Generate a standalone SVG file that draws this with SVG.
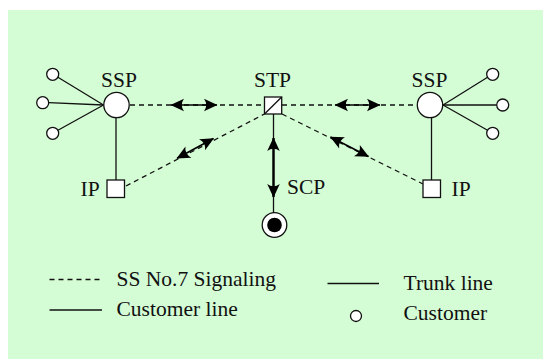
<svg xmlns="http://www.w3.org/2000/svg" width="543" height="359" viewBox="0 0 543 359">
  <style>
    text { font-family: "Liberation Serif", "DejaVu Serif", "Times New Roman", Times, serif; font-size: 21.5px; fill: #111; }
    .wire { stroke: #111; stroke-width: 1.3; fill: none; }
    .sig { stroke: #111; stroke-width: 1.3; fill: none; stroke-dasharray: 5 4; }
    .arr { stroke: #000; stroke-width: 1.6; fill: none; marker-start: url(#head); marker-end: url(#head); }
    .arr-thick { stroke: #000; stroke-width: 2.4; fill: none; marker-start: url(#head); marker-end: url(#head); }
    .node { fill: #fff; stroke: #111; stroke-width: 1.3; }
  </style>
  <defs>
    <!-- barbed arrowhead, tip at the origin -->
    <marker id="head" viewBox="-14 -7 15 14" refX="0" refY="0" markerWidth="15" markerHeight="14" markerUnits="userSpaceOnUse" orient="auto-start-reverse">
      <path d="M0.5,0 L-13,-6.3 Q-8.5,0 -13,6.3 Z" fill="#000"/>
    </marker>
  </defs>

  <rect x="0" y="0" width="543" height="359" fill="#fff"/>
  <rect x="8" y="10" width="535" height="349" fill="#d5fdd5"/>

  <g id="connectors">
    <!-- customer lines, left -->
    <line class="wire" x1="57.5" y1="77" x2="103.5" y2="105"/>
    <line class="wire" x1="48.7" y1="102.7" x2="103.5" y2="105"/>
    <line class="wire" x1="57.5" y1="130.5" x2="103.5" y2="105"/>
    <!-- customer lines, right -->
    <line class="wire" x1="488" y1="77" x2="443" y2="105"/>
    <line class="wire" x1="496.7" y1="105" x2="443" y2="105"/>
    <line class="wire" x1="488" y1="130.5" x2="443" y2="105"/>
    <!-- trunk lines SSP to IP -->
    <line class="wire" x1="116" y1="118" x2="116" y2="180"/>
    <line class="wire" x1="431.5" y1="118" x2="431.5" y2="180"/>
    <!-- STP to SCP -->
    <line class="wire" x1="273.5" y1="114" x2="273.5" y2="213"/>
    <!-- SS7 signaling links -->
    <line class="sig" x1="130" y1="105" x2="264.5" y2="105"/>
    <line class="sig" x1="282" y1="105" x2="417.5" y2="105"/>
    <line class="sig" x1="126" y1="186" x2="264.5" y2="114"/>
    <line class="sig" x1="282" y1="114" x2="423" y2="184"/>
    <!-- message flow arrows -->
    <line class="arr" x1="171" y1="105" x2="217" y2="105"/>
    <line class="arr" x1="335" y1="105" x2="380" y2="105"/>
    <line class="arr" x1="177" y1="158.3" x2="213.5" y2="138.5"/>
    <line class="arr" x1="330.5" y1="137" x2="368.5" y2="156.5"/>
    <line class="arr-thick" x1="273.5" y1="138" x2="273.5" y2="197"/>
  </g>

  <g id="ssp-left">
    <circle class="node" cx="116.5" cy="105" r="12.7"/>
    <text x="101" y="87">SSP</text>
  </g>
  <g id="ssp-right">
    <circle class="node" cx="430" cy="105" r="12.7"/>
    <text x="411.5" y="87">SSP</text>
  </g>
  <g id="stp">
    <rect class="node" x="264.5" y="97" width="17.2" height="17"/>
    <line class="wire" x1="264.5" y1="114" x2="281.7" y2="97"/>
    <text x="254" y="87">STP</text>
  </g>
  <g id="scp">
    <circle class="node" cx="274.5" cy="225" r="12.3"/>
    <circle cx="274.5" cy="225" r="7.3" fill="#000"/>
    <text x="287" y="193.5">SCP</text>
  </g>
  <g id="ip-left">
    <rect class="node" x="107" y="180" width="17.5" height="17.5"/>
    <text x="80.5" y="196">IP</text>
  </g>
  <g id="ip-right">
    <rect class="node" x="423" y="180" width="17.5" height="17.5"/>
    <text x="451.5" y="196">IP</text>
  </g>
  <g id="customers-left">
    <circle class="node" cx="52.7" cy="74.3" r="6"/>
    <circle class="node" cx="42.7" cy="102.7" r="6"/>
    <circle class="node" cx="52.7" cy="133.3" r="6"/>
  </g>
  <g id="customers-right">
    <circle class="node" cx="492.7" cy="74.3" r="6"/>
    <circle class="node" cx="502.7" cy="105" r="6"/>
    <circle class="node" cx="492.7" cy="133.3" r="6"/>
  </g>

  <g id="legend">
    <line class="sig" x1="49.5" y1="279.5" x2="101" y2="279.5" stroke-dasharray="5 3.5"/>
    <text x="116.5" y="286">SS No.7 Signaling</text>
    <line class="wire" x1="49.5" y1="310" x2="102" y2="310"/>
    <text x="116.5" y="316">Customer line</text>
    <line class="wire" x1="327.5" y1="283.5" x2="379" y2="283.5"/>
    <text x="403.5" y="289.5">Trunk line</text>
    <circle class="node" cx="356" cy="316" r="5.5"/>
    <text x="403.5" y="320">Customer</text>
  </g>
</svg>
